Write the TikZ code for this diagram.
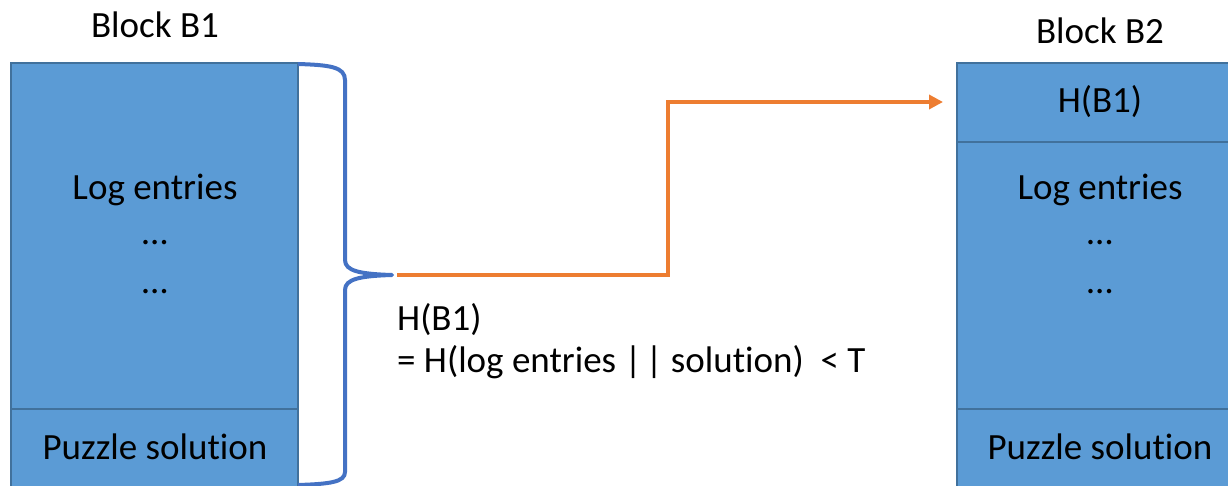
\documentclass[tikz,border=0pt]{standalone}
\usepackage{fontspec}
\setmainfont{Carlito}[Ligatures=NoCommon]
\usetikzlibrary{arrows.meta}

\definecolor{blockfill}{HTML}{5B9BD5}
\definecolor{blockline}{HTML}{41719C}
\definecolor{bracecol}{HTML}{4472C4}
\definecolor{hashcol}{HTML}{ED7D31}

\tikzset{
  txt/.style={font=\fontsize{37}{44}\selectfont, inner sep=0pt},
  cell/.style={fill=blockfill, draw=blockline, line width=1.5pt},
  sep/.style={draw=blockline, line width=1.5pt},
}

\begin{document}
\begin{tikzpicture}[x=1pt, y=-1pt]
	\useasboundingbox (0,0) rectangle (1228,486);
	\clip (0,0) rectangle (1228,486);

	% Block B1
	\draw[cell] (11,63) rectangle (298,495);
	\draw[sep] (11,409) -- (298,409);
	\node[txt] (titleA) at (155,25) {Block B1};
	\node[txt] (logA)   at (155,190) {Log entries};
	\node[txt] (dotsA1) at (155,243) {\dots};
	\node[txt] (dotsA2) at (155,292) {\dots};
	\node[txt] (solA)   at (155,447) {Puzzle solution};

	% Block B2
	\draw[cell] (957,63) rectangle (1235,495);
	\draw[sep] (957,142) -- (1235,142);
	\draw[sep] (957,409) -- (1235,409);
	\node[txt] (titleB) at (1100,31) {Block B2};
	\node[txt] (hashB)  at (1100,102) {H(B1)};
	\node[txt] (logB)   at (1100,190) {Log entries};
	\node[txt] (dotsB1) at (1100,243) {\dots};
	\node[txt] (dotsB2) at (1100,292) {\dots};
	\node[txt] (solB)   at (1100,447) {Puzzle solution};

	% brace over the whole of B1
	\coordinate (tip) at (392,275);
	\draw[bracecol, line width=4pt, line join=round]
		(298,64) .. controls (330,65) and (345,67) .. (345,80)
		-- (345,260) .. controls (345,271) and (360,274) .. (tip)
		.. controls (360,276) and (345,279) .. (345,290)
		-- (345,472) .. controls (345,482) and (330,484) .. (298,485);

	% hash of B1 goes into B2
	\coordinate (start) at (397,275);
	\coordinate (target) at (943,102);
	\draw[hashcol, line width=4pt, -{Triangle[length=14pt, width=14pt]}]
		(start) -| (668,190) |- (target);

	\node[txt, anchor=west] (hashA) at (397,320) {H(B1)};
	\node[txt, anchor=west] (cond)  at (397,362) {= H(log entries |\kern4pt| solution)\ \ < T};
\end{tikzpicture}
\end{document}
